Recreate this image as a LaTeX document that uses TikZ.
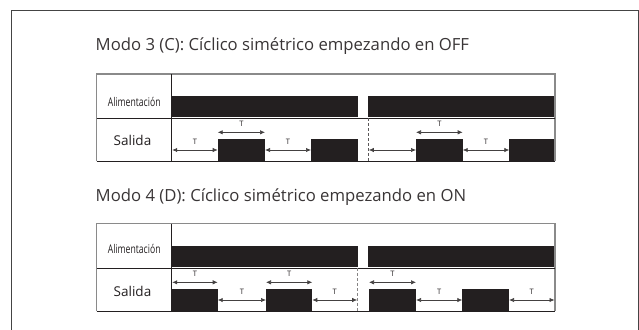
\documentclass[tikz,border=0pt]{standalone}
\usepackage{fontspec}
\setmainfont{Open Sans}
\usetikzlibrary{arrows.meta}
\definecolor{ink}{HTML}{231F20}
\definecolor{rule}{HTML}{8A8A8A}
\definecolor{frame}{HTML}{444444}
\tikzset{
  tarrow/.style={draw=ink!85,line width=0.7pt,{Latex[length=5pt,width=4.4pt]}-{Latex[length=5pt,width=4.4pt]}},
  tlab/.style={font=\fontsize{7.5}{8}\selectfont,text=ink,inner sep=0pt},
  title/.style={font=\fontsize{16.7}{18}\selectfont,text=ink!90,inner sep=0pt,anchor=base west},
  alim/.style={font=\fontsize{12}{13}\selectfont,text=ink,inner sep=0pt},
  sal/.style={font=\fontsize{13.5}{14}\selectfont,text=ink,inner sep=0pt},
  dashline/.style={draw=ink!75,line width=0.7pt,dash pattern=on 3pt off 2pt},
}
\begin{document}
\begin{tikzpicture}[x=1pt,y=-1pt]
\useasboundingbox (0,0) rectangle (639,329);
\begin{scope}
\clip (0,0) rectangle (639,329);
\draw[frame,line width=1pt] (11,340) -- (11,10.5) -- (638,10.5) -- (638,340);
\end{scope}

% ---------- Chart 1 ----------
\node[title] (t1) at (95.5,50.7) {Modo 3 (C): Cíclico simétrico empezando en OFF};
% power bars
\fill[ink] (171.7,96) rectangle (357.7,116.7);
\fill[ink] (368.3,96) rectangle (555,116.7);
% output pulses
\fill[ink] (217.7,139.3) rectangle (265,160.7);
\fill[ink] (311,139.3) rectangle (357.7,160.7);
\fill[ink] (416,139.3) rectangle (462.7,160.7);
\fill[ink] (509.3,139.3) rectangle (555,160.7);
% table
\draw[rule,line width=1.1pt] (96.7,161) -- (96.7,74) -- (555,74) -- (555,161);
\draw[ink,line width=1pt] (96.7,161) -- (555,161);
\draw[ink,line width=0.6pt] (96.7,117.8) -- (555,117.8);
\draw[ink,line width=0.8pt] (171.7,74) -- (171.7,161);
\draw[dashline] (368.3,118) -- (368.3,161);
\node[alim] (a1) at (134.2,101.5) {\scalebox{0.72}[1]{Alimentación}};
\node[sal] (s1) at (132.5,140.5) {Salida};
% arrows
\draw[tarrow] (172.2,150) -- node[tlab,above=5pt] {T} (217.7,150);
\draw[tarrow] (265,150) -- node[tlab,above=5pt] {T} (311,150);
\draw[tarrow] (368.8,150) -- (416,150);
\draw[tarrow] (462.7,150) -- node[tlab,above=5pt] {T} (509.3,150);
\draw[tarrow] (217.7,132.3) -- node[tlab,above=5pt] {T} (265,132.3);
\draw[tarrow] (416,132.3) -- node[tlab,above=5pt] {T} (462.7,132.3);

% ---------- Chart 2 ----------
\node[title] (t2) at (95.5,201.7) {Modo 4 (D): Cíclico simétrico empezando en ON};
\fill[ink] (171.7,246) rectangle (357.7,266.7);
\fill[ink] (368.3,246) rectangle (555,266.7);
\fill[ink] (171.7,289.3) rectangle (217.7,310.7);
\fill[ink] (266,289.3) rectangle (312.3,310.7);
\fill[ink] (369,289.3) rectangle (416,310.7);
\fill[ink] (462.3,289.3) rectangle (509,310.7);
\draw[rule,line width=1.1pt] (96.7,311) -- (96.7,223.7) -- (555,223.7) -- (555,311);
\draw[ink,line width=1pt] (96.7,311) -- (555,311);
\draw[ink,line width=0.6pt] (96.7,267.8) -- (555,267.8);
\draw[ink,line width=0.8pt] (171.7,223.7) -- (171.7,311);
\draw[dashline,draw=ink!55] (357.7,268) -- (357.7,311);
\node[alim] (a2) at (134.2,249) {\scalebox{0.72}[1]{Alimentación}};
\node[sal] (s2) at (132.5,291.2) {Salida};
\draw[tarrow] (172.2,282.3) -- node[tlab,above=5pt] {T} (217.7,282.3);
\draw[tarrow] (266,282.3) -- node[tlab,above=5pt] {T} (312.3,282.3);
\draw[tarrow] (369,282.3) -- node[tlab,above=5pt] {T} (416,282.3);
\draw[tarrow] (217.7,300) -- node[tlab,above=5pt] {T} (266,300);
\draw[tarrow] (312.3,300) -- node[tlab,above=5pt] {T} (357.2,300);
\draw[tarrow] (416,300) -- node[tlab,above=5pt] {T} (462.3,300);
\draw[tarrow] (509,300) -- node[tlab,above=5pt] {T} (554.5,300);
\end{tikzpicture}
\end{document}
